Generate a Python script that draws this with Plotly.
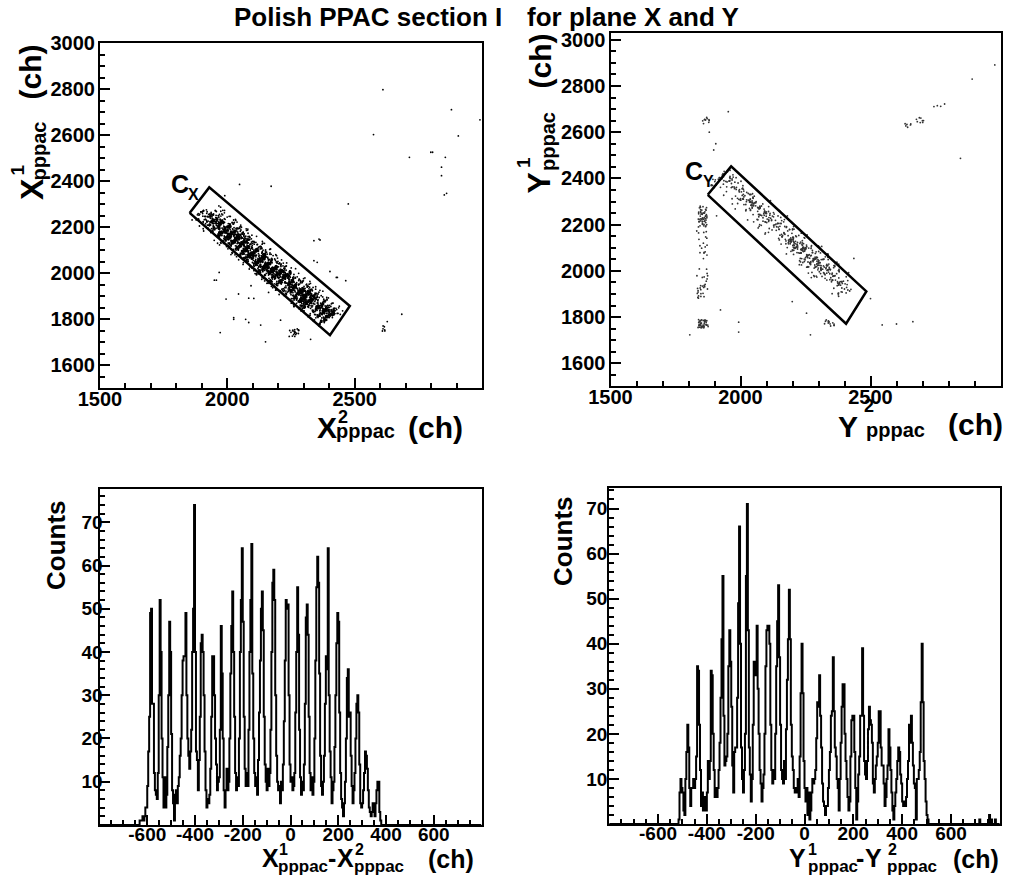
import numpy as np
import plotly.graph_objects as go

# ---------------- data ----------------
# X1 - X2 histogram (4 ch bins starting at HX_START)
HX_START, HX_BIN = -632, 4
hx_counts = [
    1, 1, 1, 2, 1, 2, 4, 4, 9, 17, 25, 49, 50, 28, 28, 12, 8,
    7, 6, 12, 30, 52, 40, 20, 11, 4, 11, 4, 7,
    18, 30, 47, 40, 21, 8, 5, 1, 7, 8, 5, 9,
    11, 16, 20, 30, 38, 39, 39, 49, 30, 20, 16, 13, 17, 22, 40, 50, 74,
    40, 17, 15, 8, 15, 25, 42, 44, 40, 30, 17, 8, 4, 6, 5, 7,
    13, 25, 39, 39, 30, 20, 14, 8, 10, 11, 22, 46, 35, 20, 8, 4, 8, 13, 8, 10,
    20, 35, 46, 54,
    40, 25, 12, 8, 11, 9, 20, 40, 52, 64, 47, 25, 13, 9, 12, 9,
    22, 40, 52, 65, 35, 20, 12, 9, 11, 7, 15, 26, 38, 50, 54, 45, 25, 14, 10, 8, 13, 9, 12,
    22, 40, 56, 59, 52, 30, 16, 10, 8, 9, 5, 10, 8, 14, 24, 38, 52, 50, 51, 30, 14, 10, 11, 8, 9, 12,
    26, 40, 55, 44, 22, 11, 7, 10, 8, 14, 28, 48, 51, 44, 25, 12, 8, 11, 7, 10,
    20, 38, 55, 62, 56, 35, 16, 9, 7, 10, 16, 28, 39, 36, 64, 30, 17, 11, 5, 8, 10,
    18, 30, 42, 49, 47, 26, 12, 6, 4, 2, 5, 10, 20, 34, 36, 25, 26, 16, 9, 5,
    8, 12, 20, 28, 30, 26, 14, 5, 4, 5, 8, 12, 17, 16, 13, 8, 4, 3, 2, 3, 5, 3, 2, 5, 8, 10, 10, 3, 1,
]
# Y1 - Y2 histogram
HY_START, HY_BIN = -516, 4
hy_counts = [
    1, 7, 10, 8, 7, 3, 2, 10, 16, 22, 17, 8, 4,
    8, 8, 10, 8, 10, 15, 35, 34, 22, 12,
    4, 7, 3, 6, 5, 3, 7, 14, 10, 14, 34, 33, 20, 12,
    6, 8, 6, 8, 12, 18, 28, 41, 55, 24, 13, 14, 15, 20, 35, 43, 36, 26, 13, 7,
    16, 17, 17, 28, 49, 66, 40, 17, 10, 7, 12, 20, 55, 71, 43, 17, 11,
    5, 10, 22, 36, 33, 35, 44, 30, 20, 12,
    9, 5, 8, 11, 20, 35, 43, 44, 44, 40, 22, 12, 9,
    12, 10, 20, 35, 45, 53, 37, 22, 12, 10, 9, 14, 10,
    21, 32, 41, 52, 41, 22, 15, 12,
    8, 7, 8, 7, 10, 6, 15, 29, 40, 29, 14, 8, 5, 8, 2, 7, 1, 3, 7, 10, 9, 10,
    12, 19, 27, 26, 33, 24, 17, 9, 5, 4, 2, 4, 4, 8, 12, 16, 24, 25, 37, 25, 17, 15, 10, 8, 3,
    10, 18, 26, 31, 31, 20, 14, 10, 6, 3, 5, 15, 23, 24, 24, 16, 8, 1, 5, 11, 15, 24, 24, 39, 24, 14, 11, 10,
    14, 21, 26, 23, 22, 18, 9, 7, 10, 13, 15, 18, 25, 25, 17, 13, 13, 9, 4, 6, 10, 13, 21, 17, 12, 7, 3, 1,
    4, 7, 10, 14, 17, 16, 11, 9, 5, 4, 5, 4, 6, 10, 14, 22, 18, 24, 18, 13, 9, 8, 1, 10, 10, 12, 16, 27, 40, 27, 14, 10, 5, 2, 1,
]
hy_tail_x = [716, 756, 764, 780]
hy_tail_counts = [1, 2, 1, 1]
HIST_MIN, HIST_MAX = -800, 800

# graphical cuts C_X and C_Y (vertices)
cutx_x2 = [1852, 1929, 2481, 2403, 1852]
cutx_x1 = [2262, 2373, 1857, 1730, 2262]
cuty_y2 = [1874, 1964, 2484, 2406, 1874]
cuty_y1 = [2329, 2452, 1911, 1771, 2329]

# correlation band inside the cuts: centre of (first+second) at two ends of (first-second)
bandX_d = [-585, 357]
bandX_s = [4213, 4171]
bandY_d = [-546, 438]
bandY_s = [4324, 4336]
band_off = [-90, -60, -35, -15, 0, 15, 35, 60, 90]
band_cdf = [0.0, 0.04, 0.14, 0.32, 0.50, 0.68, 0.86, 0.96, 1.0]
dotsX_per_count = 0.42
dotsY_per_count = 0.12

# small clusters outside the band
xcl_cx = [2262, 2618]
xcl_cy = [1742, 1760]
xcl_hw = [20, 8]
xcl_hh = [18, 15]
xcl_n = [20, 5]
ycl_cx = [1852, 1855, 1848, 1857, 1868, 2640, 2690, 2345]
ycl_cy = [2080, 2235, 1910, 1772, 2650, 2630, 2652, 1775]
ycl_hw = [22, 16, 16, 22, 14, 15, 15, 22]
ycl_hh = [170, 45, 30, 18, 14, 12, 12, 14]
ycl_n = [40, 45, 15, 40, 10, 6, 8, 14]

# isolated points
xo_x2 = [2611, 2880, 2992, 2574, 2907, 2715, 2799, 2806, 2856, 2841, 2841, 2861, 2852, 2475,
         2048, 2172, 1968, 1990, 2364, 2340, 2403, 2428, 1968, 1949, 1995, 2025, 2084, 1972,
         2150, 2685, 2628, 2093, 2104, 2327, 1957, 2044, 2084, 2162, 2025, 2072, 2131, 2209,
         2353, 2340, 2432, 2465, 2360, 2268, 2609]
xo_x1 = [2798, 2711, 2667, 2603, 2597, 2504, 2526, 2526, 2504, 2461, 2424, 2347, 2340, 2301,
         2386, 2378, 2337, 2337, 2144, 2054, 2007, 1981, 2003, 1969, 1887, 1799, 1785, 1741,
         1701, 1821, 1789, 1945, 1890, 1712, 1969, 1909, 1891, 1916, 1806, 1799, 1774, 1795,
         2047, 2141, 1981, 1967, 2148, 1741, 1748]
yo_y2 = [2744, 2757, 2891, 2978, 2846, 1897, 1953, 2436, 2545, 2663, 2269, 2199, 2254, 1993,
         1993, 1805, 1923, 1908, 2785, 2770, 1905, 1880, 2600, 2040, 2150, 2500]
yo_y1 = [2711, 2715, 2830, 2891, 2487, 2523, 2689, 2054, 1766, 1780, 1723, 1867, 1817, 1778,
         1735, 1723, 1831, 2238, 2722, 2712, 2550, 2600, 1770, 2330, 2260, 1880]

# axis tick values
top_x_ticks = [1500, 2000, 2500]
top_y_ticks = [1600, 1800, 2000, 2200, 2400, 2600, 2800, 3000]
bot_x_ticks = [-600, -400, -200, 0, 200, 400, 600]
bot_y_ticks = [10, 20, 30, 40, 50, 60, 70]

# ---------------- helpers ----------------
W, H = 1009, 888


def px(x):
    return x / W


def py(y):
    return 1 - y / H


def hash01(k, seed):
    # deterministic scramble used only to spread dots inside a cell
    v = np.sin(k * 12.9898 + seed * 78.233) * 43758.5453
    return v - np.floor(v)


def band_points(counts, start, binw, frac, d_ends, s_ends, seed):
    lo, hi = [], []
    acc, k = 0.0, 0
    for i, c in enumerate(counts):
        acc += c * frac
        n = int(acc)
        acc -= n
        for _ in range(n):
            u = hash01(k, seed)
            v = hash01(k, seed + 1.7)
            k += 1
            d = start + binw * (i + u)
            s = np.interp(d, d_ends, s_ends) + np.interp(v, band_cdf, band_off)
            hi.append((s + d) / 2)
            lo.append((s - d) / 2)
    return lo, hi


def cluster_points(cx, cy, hw, hh, nn, seed):
    xs, ys = [], []
    k = 0
    for x0, y0, a, b, n in zip(cx, cy, hw, hh, nn):
        for _ in range(n):
            u = hash01(k, seed)
            v = hash01(k, seed + 3.1)
            k += 1
            xs.append(x0 + a * (2 * u - 1))
            ys.append(y0 + b * (2 * v - 1))
    return xs, ys


def full_hist(counts, start, binw, tail_x=(), tail_c=()):
    nb = int((HIST_MAX - HIST_MIN) / binw)
    full = np.zeros(nb)
    off = int((start - HIST_MIN) / binw)
    full[off:off + len(counts)] = counts
    for x, c in zip(tail_x, tail_c):
        full[int((x - HIST_MIN) // binw)] += c
    edges = HIST_MIN + binw * np.arange(nb + 1)
    return edges, np.append(full, full[-1])


# ---------------- figure ----------------
fig = go.Figure()
DOT = dict(color="black", size=1.8, line=dict(width=0))

bx2, bx1 = band_points(hx_counts, HX_START, HX_BIN, dotsX_per_count, bandX_d, bandX_s, 1.0)
cx2, cx1 = cluster_points(xcl_cx, xcl_cy, xcl_hw, xcl_hh, xcl_n, 2.0)
fig.add_trace(go.Scatter(x=bx2 + cx2 + xo_x2, y=bx1 + cx1 + xo_x1, mode="markers",
                         marker=DOT, xaxis="x", yaxis="y", hoverinfo="skip"))
fig.add_trace(go.Scatter(x=cutx_x2, y=cutx_x1, mode="lines", line=dict(color="black", width=2.5),
                         xaxis="x", yaxis="y", hoverinfo="skip"))

by2, by1 = band_points(hy_counts, HY_START, HY_BIN, dotsY_per_count, bandY_d, bandY_s, 4.0)
cy2, cy1 = cluster_points(ycl_cx, ycl_cy, ycl_hw, ycl_hh, ycl_n, 5.0)
fig.add_trace(go.Scatter(x=by2 + cy2 + yo_y2, y=by1 + cy1 + yo_y1, mode="markers",
                         marker=dict(color="#333333", size=1.8, line=dict(width=0)),
                         xaxis="x2", yaxis="y2", hoverinfo="skip"))
fig.add_trace(go.Scatter(x=cuty_y2, y=cuty_y1, mode="lines", line=dict(color="black", width=2.5),
                         xaxis="x2", yaxis="y2", hoverinfo="skip"))

ex, vx = full_hist(hx_counts, HX_START, HX_BIN)
fig.add_trace(go.Scatter(x=ex, y=vx, mode="lines", line=dict(color="black", width=2, shape="hv"),
                         xaxis="x3", yaxis="y3", hoverinfo="skip"))
ey, vy = full_hist(hy_counts, HY_START, HY_BIN, hy_tail_x, hy_tail_counts)
fig.add_trace(go.Scatter(x=ey, y=vy, mode="lines", line=dict(color="black", width=2, shape="hv"),
                         xaxis="x4", yaxis="y4", hoverinfo="skip"))

FONT = "Liberation Sans, Arial, sans-serif"


def axis(domain, rng, tickvals, mdt, m0, fs, anchor, standoff):
    return dict(domain=domain, range=rng, tickmode="array", tickvals=tickvals,
                ticktext=[str(v) for v in tickvals], ticks="inside", ticklen=10, tickwidth=1.5,
                tickcolor="black", ticklabelstandoff=standoff,
                minor=dict(ticks="inside", ticklen=5, tickwidth=1.5, tickcolor="black",
                           tickmode="linear", tick0=m0, dtick=mdt, showgrid=False),
                showline=True, linewidth=2, linecolor="black", mirror=True, showgrid=False,
                zeroline=False, anchor=anchor, fixedrange=True, automargin=False,
                tickfont=dict(family=FONT, size=fs, color="black", weight="bold"))


fig.update_layout(
    template="none",
    width=W, height=H, margin=dict(l=0, r=0, t=0, b=0, pad=0, autoexpand=False), showlegend=False,
    paper_bgcolor="white", plot_bgcolor="white",
    xaxis=axis([px(100), px(482)], [1500, 3000], top_x_ticks, 100, 1500, 20, "y", -8),
    yaxis=axis([py(388), py(43.3)], [1500, 3000], top_y_ticks, 50, 1500, 20, "x", -1),
    xaxis2=axis([px(610.5), px(1000.5)], [1500, 3000], top_x_ticks, 100, 1500, 20, "y2", -8),
    yaxis2=axis([py(386.4), py(33.3)], [1500, 3028], top_y_ticks, 50, 1500, 20, "x2", -1),
    xaxis3=axis([px(99.5), px(481.5)], [-800, 800], bot_x_ticks, 50, -800, 19, "y3", -9),
    yaxis3=axis([py(824.9), py(489)], [0, 77.7], bot_y_ticks, 2, 0, 19, "x3", -9),
    xaxis4=axis([px(609.2), px(999.8)], [-800, 800], bot_x_ticks, 50, -800, 19, "y4", -9),
    yaxis4=axis([py(824), py(488)], [0, 74.55], bot_y_ticks, 2, 0, 19, "x4", -4),
)

anns = []


def ann(text, x, y, size, angle=0):
    anns.append(dict(text=text, x=px(x), y=py(y), xref="paper", yref="paper", showarrow=False,
                     xanchor="center", yanchor="middle", textangle=angle,
                     font=dict(family=FONT, size=size, color="black", weight="bold")))


# title
ann("Polish PPAC section I", 367.5, 17.3, 26)
ann("for plane X and Y", 632.5, 17.3, 26)
# top-left axis titles
ann("X", 327, 427.6, 30)
ann("2", 343, 416.8, 18)
ann("pppac", 365, 431.4, 20)
ann("(ch)", 435.5, 427.6, 30)
ann("X", 32, 189, 32, -90)
ann("1", 18.4, 170, 19, -90)
ann("pppac", 38, 151.5, 20, -90)
ann("(ch)", 30, 72.5, 30, -90)
# top-right axis titles
ann("Y", 847.5, 426.6, 30)
ann("2", 869, 405.8, 18)
ann("pppac", 895, 430, 20)
ann("(ch)", 975, 424, 30)
ann("Y", 539, 183.5, 32, -90)
ann("1", 523, 163, 19, -90)
ann("pppac", 548, 142, 20, -90)
ann("(ch)", 540, 61.5, 30, -90)
# bottom-left
ann("X", 270, 858.3, 25)
ann("1", 283.5, 849.5, 16)
ann("pppac", 303, 866, 17)
ann("-", 331.5, 858.3, 25)
ann("X", 345, 858.3, 25)
ann("2", 359, 849.5, 16)
ann("pppac", 379, 866, 17)
ann("(ch)", 450.5, 859, 25)
ann("Counts", 56, 545, 26, -90)
# bottom-right
ann("Y", 797.5, 858.3, 25)
ann("1", 812.5, 849.5, 16)
ann("pppac", 832.5, 866, 17)
ann("-", 860, 858.3, 25)
ann("Y", 873, 858.3, 25)
ann("2", 892.5, 849.5, 16)
ann("pppac", 911.5, 866, 17)
ann("(ch)", 976, 859, 25)
ann("Counts", 563, 541, 26, -90)
# cut labels
ann("C", 180, 184.3, 25)
ann("X", 193, 194.5, 16)
ann("C", 694, 171.3, 25)
ann("Y", 708, 181.5, 16)

fig.update_layout(annotations=anns)

fig.write_html("out.html", config={"displayModeBar": False},
               post_script="document.body.style.margin='0';")
